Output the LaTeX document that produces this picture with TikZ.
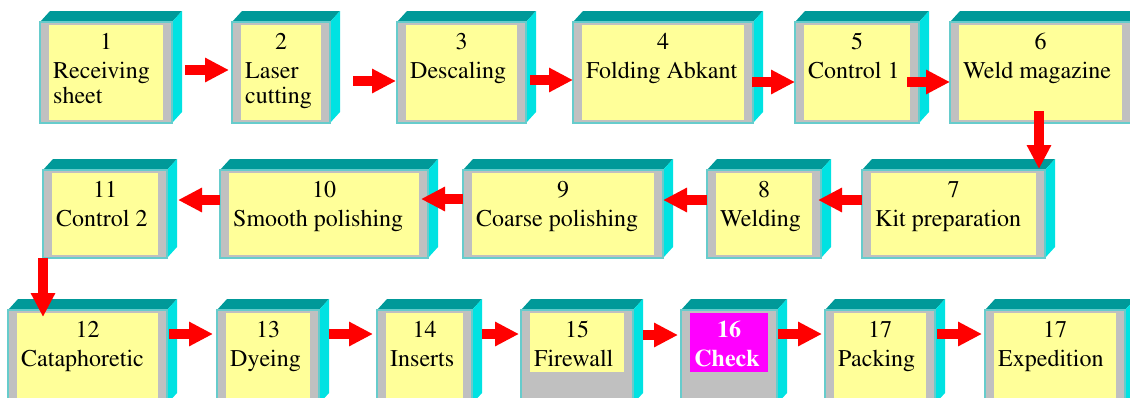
\documentclass[tikz,border=0pt]{standalone}
\usepackage[T1]{fontenc}
\renewcommand{\rmdefault}{ptm}
\usetikzlibrary{arrows.meta,fit,calc}
\definecolor{topc}{HTML}{009999}
\definecolor{sidec}{HTML}{00E2E2}
\definecolor{edgec}{HTML}{66CCCC}
\definecolor{grayc}{HTML}{C0C0C0}
\definecolor{yelc}{HTML}{FFFF99}
\definecolor{magc}{HTML}{FF00FF}
\tikzset{
  front/.style={draw=edgec, fill=grayc, line width=1.3pt, inner sep=0pt, outer sep=0pt},
  num/.style={anchor=base, inner sep=0pt, font=\rmfamily\fontsize{24}{28}\selectfont},
  lbl/.style={anchor=base west, inner sep=0pt, font=\rmfamily\fontsize{24}{28}\selectfont},
  flow/.style={draw=red, line width=9.5pt, -{Triangle[length=24pt,width=23pt]}}
}
% name, x1, y1, x2, y2, inner bottom, inner colour
\newcommand\pbox[7]{%
  \fill[topc] (#2,#3) -- (#2+10,#3-11) -- (#4+10,#3-11) -- (#4,#3) -- cycle;
  \fill[sidec] (#4,#3) -- (#4+10,#3-11) -- (#4+10,#5-11) -- (#4,#5) -- cycle;
  \node[front, fit={(#2,#3)(#4,#5)}] (#1) {};
  \fill[#7] (#2+9,#3+3) rectangle (#4-9,#6);
}
% box, number, label
\newcommand\lab[3]{%
  \node[num] (#1n) at ([shift={(0,27)}]#1.north) {#2};
  \node[lbl] (#1t) at ([shift={(13,56)}]#1.north west) {#3};
}
\begin{document}
\begin{tikzpicture}[x=1pt,y=-1pt]
\useasboundingbox (0,0) rectangle (1130,397);
\clip (0,0) rectangle (1130,397);
% row 1
\pbox{b1}{40}{22}{172}{123}{120}{yelc}
\pbox{b2}{232}{22}{330}{123}{120}{yelc}
\pbox{b3}{397}{22}{526}{123}{120}{yelc}
\pbox{b4}{573}{22}{753}{123}{120}{yelc}
\pbox{b5}{795}{22}{919}{123}{120}{yelc}
\pbox{b6}{950}{22}{1131}{123}{120}{yelc}
% row 2
\pbox{b7}{862}{170}{1045}{258}{255}{yelc}
\pbox{b8}{707}{170}{821}{258}{255}{yelc}
\pbox{b9}{463}{170}{663}{258}{255}{yelc}
\pbox{b10}{220}{170}{428}{258}{255}{yelc}
\pbox{b11}{43}{170}{167}{258}{255}{yelc}
% row 3
\pbox{b12}{8}{310}{167}{404}{404}{yelc}
\pbox{b13}{217}{310}{319}{404}{404}{yelc}
\pbox{b14}{377}{310}{472}{404}{404}{yelc}
\pbox{b15}{521}{310}{633}{404}{372}{yelc}
\pbox{b16}{681}{310}{777}{404}{372}{magc}
\pbox{b17}{825}{310}{935}{404}{404}{yelc}
\pbox{b18}{985}{310}{1125}{404}{404}{yelc}
% texts
\node[num] (b1n) at ([shift={(0,27)}]b1.north) {1};
\node[lbl] (b1t) at ([shift={(13,56)}]b1.north west) {Receiving};
\node[lbl] (b1u) at ([shift={(13,81)}]b1.north west) {sheet};
\node[num] (b2n) at ([shift={(0,27)}]b2.north) {2};
\node[lbl] (b2t) at ([shift={(13,56)}]b2.north west) {Laser};
\node[lbl] (b2u) at ([shift={(13,81)}]b2.north west) {cutting};
\lab{b3}{3}{Descaling}
\lab{b4}{4}{Folding Abkant}
\lab{b5}{5}{Control 1}
\lab{b6}{6}{Weld magazine}
\lab{b7}{7}{Kit preparation}
\lab{b8}{8}{Welding}
\lab{b9}{9}{Coarse polishing}
\lab{b10}{10}{Smooth polishing}
\lab{b11}{11}{Control 2}
\lab{b12}{12}{Cataphoretic}
\lab{b13}{13}{Dyeing}
\lab{b14}{14}{Inserts}
\lab{b15}{15}{Firewall}
\node[num, text=white, font=\rmfamily\fontsize{24}{28}\selectfont\bfseries] (b16n) at ([shift={(0,27)}]b16.north) {16};
\node[num, text=white, font=\rmfamily\fontsize{24}{28}\selectfont\bfseries] (b16t) at ([shift={(-2,56)}]b16.north) {Check};
\lab{b17}{17}{Packing}
\lab{b18}{17}{Expedition}
% arrows row 1
\draw[flow] ([shift={(13,-2.5)}]b1.east) -- ([shift={(-3,-2.5)}]b2.west);
\draw[flow] ([shift={(23,8.5)}]b2.east) -- ([shift={(-1,8.5)}]b3.west);
\draw[flow] ([shift={(4,7.5)}]b3.east) -- ([shift={(0,7.5)}]b4.west);
\draw[flow] ([shift={(-1,9.5)}]b4.east) -- ([shift={(0,9.5)}]b5.west);
\draw[flow] ([shift={(-12,9.5)}]b5.east) -- ([shift={(0,9.5)}]b6.west);
\draw[flow] ([shift={(-1.5,-12)}]b6.south) -- ([shift={(-6,-1)}]b7.north east);
% arrows row 2
\draw[flow] ([shift={(0,-14)}]b7.west) -- ([shift={(-3,-14)}]b8.east);
\draw[flow] ([shift={(0,-14)}]b8.west) -- ([shift={(0,-14)}]b9.east);
\draw[flow] ([shift={(0,-15)}]b9.west) -- ([shift={(-7,-15)}]b10.east);
\draw[flow] ([shift={(0,-14)}]b10.west) -- ([shift={(11,-14)}]b11.east);
\draw[flow] (b11.south west) -- ([shift={(35,7)}]b12.north west);
% arrows row 3
\draw[flow] ([shift={(2,24)}]b12.north east) -- ([shift={(-4,24)}]b13.north west);
\draw[flow] ([shift={(10,24)}]b13.north east) -- ([shift={(-4,24)}]b14.north west);
\draw[flow] ([shift={(10,24)}]b14.north east) -- ([shift={(-2,24)}]b15.north west);
\draw[flow] ([shift={(10,25)}]b15.north east) -- ([shift={(-3,25)}]b16.north west);
\draw[flow] ([shift={(1,24)}]b16.north east) -- ([shift={(-3,24)}]b17.north west);
\draw[flow] ([shift={(2,24)}]b17.north east) -- ([shift={(-3,24)}]b18.north west);
\end{tikzpicture}
\end{document}
